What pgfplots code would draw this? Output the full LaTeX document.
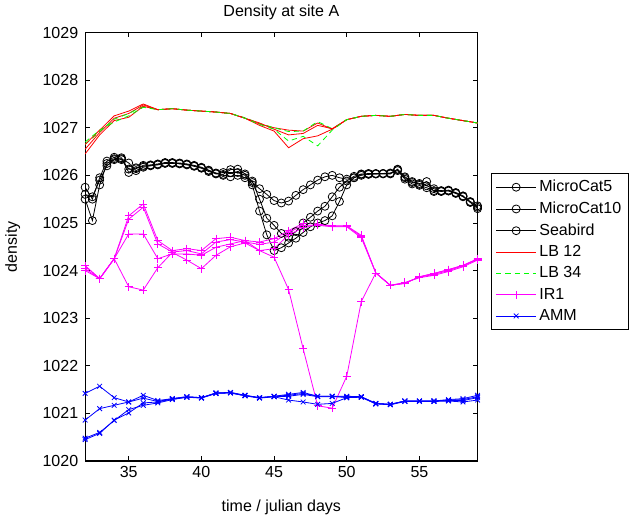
\documentclass[border=0pt]{standalone}
\usepackage{pgfplots}
\pgfplotsset{compat=1.18}
\usepackage{fontspec}
\setmainfont{Liberation Sans}
\definecolor{mmag}{rgb}{1,0,1}
\definecolor{mred}{rgb}{1,0,0}
\pgfplotsset{every axis plot post/.append style={line width=0.6pt},
  legend image code/.code={\draw[mark repeat=2,mark phase=2] plot coordinates {(0cm,0cm) (0.53cm,0cm) (1.06cm,0cm)};}}
\begin{document}
\fontsize{12}{14}\selectfont
\begin{tikzpicture}
\begin{axis}[
  scale only axis, width=294pt, height=321pt,
  xmin=32, xmax=59, ymin=1020, ymax=1029,
  xtick={35,40,45,50,55}, ytick={1020,1021,...,1029},
  /pgf/number format/assume math mode=true,
  /pgf/number format/set thousands separator={},
  tick label style={font=\fontsize{12}{14}\selectfont},
  yticklabel style={xshift=-1pt},
  label style={font=\fontsize{12}{14}\selectfont},
  title style={font=\fontsize{12}{14}\selectfont, yshift=-1pt},
  title={Density at site A},
  xlabel={time / julian days}, ylabel={density},
  xlabel style={yshift=-8pt}, ylabel style={yshift=8.5pt},
  tick align=inside, major tick length=3.5pt,
  axis line style={line width=0.75pt},
  every tick/.style={black, line width=0.6pt},
  legend style={at={(1,0.5)}, xshift=9.75pt, yshift=-3.5pt, anchor=west, font=\fontsize{12}{14}\selectfont,
    draw=black, line width=0.6pt, inner xsep=3.5pt, inner ysep=3pt, row sep=1.8pt, cells={anchor=west}},
]
% MicroCat5
\addplot[black, mark=o, mark size=3pt] coordinates {
(32.0,1025.50)(32.5,1025.05)(33.0,1025.80)(33.5,1026.25)(34.0,1026.35)(34.5,1026.37)
(35.0,1026.06)(35.5,1026.16)(36.0,1026.19)(36.5,1026.21)(37.0,1026.23)(37.5,1026.27)
(38.0,1026.26)(38.5,1026.25)(39.0,1026.23)(39.5,1026.20)(40.0,1026.16)(40.5,1026.10)
(41.0,1026.03)(41.5,1026.02)(42.0,1026.12)(42.5,1026.13)(43.0,1026.03)(43.5,1025.85)
(44.0,1025.72)(44.5,1025.60)(45.0,1025.47)(45.5,1025.42)(46.0,1025.46)(46.5,1025.58)
(47.0,1025.70)(47.5,1025.80)(48.0,1025.90)(48.5,1025.97)(49.0,1026.00)(49.5,1025.95)
(50.0,1025.92)(50.5,1025.95)(51.0,1026.00)(51.5,1026.03)(52.0,1026.03)(52.5,1026.03)
(53.0,1026.03)(53.5,1026.13)(54.0,1025.97)(54.5,1025.87)(55.0,1025.81)(55.5,1025.87)
(56.0,1025.66)(56.5,1025.67)(57.0,1025.69)(57.5,1025.64)(58.0,1025.57)(58.5,1025.43)
(59.0,1025.33)};
\addlegendentry{MicroCat5}
% MicroCat10
\addplot[black, mark=o, mark size=3pt] coordinates {
(32.0,1025.75)(32.5,1025.50)(33.0,1025.95)(33.5,1026.30)(34.0,1026.38)(34.5,1026.33)
(35.0,1026.13)(35.5,1026.14)(36.0,1026.21)(36.5,1026.22)(37.0,1026.24)(37.5,1026.26)
(38.0,1026.27)(38.5,1026.24)(39.0,1026.22)(39.5,1026.19)(40.0,1026.15)(40.5,1026.08)
(41.0,1026.04)(41.5,1026.06)(42.0,1026.06)(42.5,1026.06)(43.0,1026.00)(43.5,1025.80)
(44.0,1025.25)(44.5,1024.75)(45.0,1024.42)(45.5,1024.48)(46.0,1024.58)(46.5,1024.68)
(47.0,1024.80)(47.5,1024.92)(48.0,1025.00)(48.5,1025.05)(49.0,1025.15)(49.5,1025.45)
(50.0,1025.80)(50.5,1025.95)(51.0,1026.02)(51.5,1026.04)(52.0,1026.04)(52.5,1026.04)
(53.0,1026.05)(53.5,1026.12)(54.0,1025.95)(54.5,1025.85)(55.0,1025.83)(55.5,1025.78)
(56.0,1025.72)(56.5,1025.66)(57.0,1025.68)(57.5,1025.63)(58.0,1025.55)(58.5,1025.45)
(59.0,1025.36)};
\addlegendentry{MicroCat10}
% Seabird
\addplot[black, mark=o, mark size=3pt] coordinates {
(32.0,1025.60)(32.5,1025.55)(33.0,1025.90)(33.5,1026.20)(34.0,1026.33)(34.5,1026.35)
(35.0,1026.26)(35.5,1026.10)(36.0,1026.17)(36.5,1026.20)(37.0,1026.22)(37.5,1026.25)
(38.0,1026.25)(38.5,1026.26)(39.0,1026.24)(39.5,1026.21)(40.0,1026.17)(40.5,1026.11)
(41.0,1026.05)(41.5,1026.00)(42.0,1025.97)(42.5,1026.00)(43.0,1025.95)(43.5,1025.88)
(44.0,1025.50)(44.5,1025.10)(45.0,1024.95)(45.5,1024.78)(46.0,1024.70)(46.5,1024.82)
(47.0,1025.00)(47.5,1025.12)(48.0,1025.25)(48.5,1025.35)(49.0,1025.55)(49.5,1025.75)
(50.0,1025.88)(50.5,1025.98)(51.0,1026.03)(51.5,1026.02)(52.0,1026.03)(52.5,1026.04)
(53.0,1026.04)(53.5,1026.10)(54.0,1025.92)(54.5,1025.82)(55.0,1025.79)(55.5,1025.74)
(56.0,1025.68)(56.5,1025.68)(57.0,1025.67)(57.5,1025.62)(58.0,1025.56)(58.5,1025.44)
(59.0,1025.30)};
\addlegendentry{Seabird}
% LB 12
\addplot[mred, line width=0.7pt] coordinates {
(32,1026.55)(33,1026.90)(34,1027.20)(35,1027.30)(36,1027.48)(37,1027.38)(38,1027.40)
(39,1027.37)(40,1027.35)(41,1027.33)(42,1027.30)(43,1027.20)(44,1027.08)(45,1027.00)
(46,1026.95)(47,1026.93)(48,1027.10)(49,1026.97)(50,1027.17)(51,1027.24)(52,1027.26)
(53,1027.24)(54,1027.28)(55,1027.26)(56,1027.26)(57,1027.20)(58,1027.15)(59,1027.10)};
\addlegendentry{LB 12}
% LB 34
\addplot[green, line width=0.75pt, dash pattern=on 4pt off 3pt] coordinates {
(32,1026.65)(33,1026.92)(34,1027.18)(35,1027.30)(36,1027.45)(37,1027.38)(38,1027.40)
(39,1027.37)(40,1027.35)(41,1027.33)(42,1027.30)(43,1027.21)(44,1027.09)(45,1027.00)
(46,1026.92)(47,1026.93)(48,1027.13)(49,1026.98)(50,1027.17)(51,1027.24)(52,1027.26)
(53,1027.24)(54,1027.28)(55,1027.26)(56,1027.26)(57,1027.20)(58,1027.15)(59,1027.10)};
\addlegendentry{LB 34}
% IR1
\addplot[mmag, mark=+, mark size=3pt] coordinates {
(32,1024.10)(33,1023.83)(34,1024.25)(35,1025.15)(36,1025.40)(37,1024.63)(38,1024.42)
(39,1024.46)(40,1024.42)(41,1024.67)(42,1024.70)(43,1024.63)(44,1024.60)(45,1024.67)
(46,1024.84)(47,1024.99)(48,1024.98)(49,1024.94)(50,1024.94)(51,1024.74)(52,1023.95)
(53,1023.69)(54,1023.73)(55,1023.87)(56,1023.94)(57,1024.02)(58,1024.11)(59,1024.25)};
\addlegendentry{IR1}
% AMM
\addplot[blue, mark=x, mark size=2.5pt] coordinates {
(32,1021.42)(33,1021.57)(34,1021.33)(35,1021.24)(36,1021.38)(37,1021.27)(38,1021.31)
(39,1021.35)(40,1021.33)(41,1021.43)(42,1021.44)(43,1021.38)(44,1021.33)(45,1021.36)
(46,1021.40)(47,1021.44)(48,1021.36)(49,1021.36)(50,1021.36)(51,1021.35)(52,1021.21)
(53,1021.19)(54,1021.26)(55,1021.26)(56,1021.26)(57,1021.29)(58,1021.31)(59,1021.38)};
\addlegendentry{AMM}
% extra LB 12 lines
\addplot[mred, line width=0.7pt, forget plot] coordinates {
(32,1026.45)(33,1026.85)(34,1027.15)(35,1027.22)(36,1027.45)(37,1027.38)(38,1027.40)
(39,1027.37)(40,1027.35)(41,1027.33)(42,1027.30)(43,1027.20)(44,1027.05)(45,1026.93)
(46,1026.58)(47,1026.77)(48,1026.83)(49,1026.97)(50,1027.17)(51,1027.24)(52,1027.26)
(53,1027.24)(54,1027.28)(55,1027.26)(56,1027.26)(57,1027.20)(58,1027.15)(59,1027.10)};
\addplot[mred, line width=0.7pt, forget plot] coordinates {
(32,1026.65)(33,1026.95)(34,1027.25)(35,1027.35)(36,1027.50)(37,1027.38)(38,1027.40)
(39,1027.37)(40,1027.35)(41,1027.33)(42,1027.30)(43,1027.20)(44,1027.10)(45,1026.97)
(46,1026.85)(47,1026.88)(48,1027.05)(49,1026.98)(50,1027.17)(51,1027.24)(52,1027.26)
(53,1027.24)(54,1027.28)(55,1027.26)(56,1027.26)(57,1027.20)(58,1027.15)(59,1027.10)};
% extra LB 34 line
\addplot[green, line width=0.75pt, dash pattern=on 4pt off 3pt, forget plot] coordinates {
(32,1026.70)(33,1026.95)(34,1027.12)(35,1027.25)(36,1027.43)(37,1027.38)(38,1027.40)
(39,1027.37)(40,1027.35)(41,1027.33)(42,1027.30)(43,1027.20)(44,1027.07)(45,1026.97)
(46,1026.72)(47,1026.82)(48,1026.62)(49,1026.95)(50,1027.17)(51,1027.24)(52,1027.26)
(53,1027.24)(54,1027.28)(55,1027.26)(56,1027.26)(57,1027.20)(58,1027.15)(59,1027.10)};
% extra IR1 lines
\addplot[mmag, mark=+, mark size=3pt, forget plot] coordinates {
(32,1024.04)(33,1023.83)(34,1024.25)(35,1025.08)(36,1025.33)(37,1024.56)(38,1024.39)
(39,1024.42)(40,1024.35)(41,1024.60)(42,1024.65)(43,1024.60)(44,1024.55)(45,1024.60)
(46,1024.80)(47,1024.95)(48,1024.95)(49,1024.92)(50,1024.92)(51,1024.69)(52,1023.95)
(53,1023.69)(54,1023.75)(55,1023.85)(56,1023.90)(57,1023.98)(58,1024.08)(59,1024.22)};
\addplot[mmag, mark=+, mark size=3pt, forget plot] coordinates {
(32,1024.00)(33,1023.83)(34,1024.25)(35,1024.77)(36,1024.77)(37,1024.25)(38,1024.35)
(39,1024.35)(40,1024.32)(41,1024.49)(42,1024.56)(43,1024.63)(44,1024.42)(45,1024.46)
(46,1024.75)(47,1024.90)(48,1024.97)(49,1024.93)(50,1024.93)(51,1024.72)(52,1023.95)
(53,1023.69)(54,1023.74)(55,1023.86)(56,1023.92)(57,1024.00)(58,1024.10)(59,1024.24)};
\addplot[mmag, mark=+, mark size=3pt, forget plot] coordinates {
(32,1024.10)(33,1023.83)(34,1024.25)(35,1023.66)(36,1023.59)(37,1024.06)(38,1024.38)
(39,1024.22)(40,1024.04)(41,1024.32)(42,1024.50)(43,1024.58)(44,1024.42)(45,1024.28)
(46,1023.60)(47,1022.36)(48,1021.16)(49,1021.11)(50,1021.78)(51,1023.35)(52,1023.95)
(53,1023.69)(54,1023.73)(55,1023.87)(56,1023.94)(57,1024.02)(58,1024.11)(59,1024.23)};
% extra AMM lines
\addplot[blue, mark=x, mark size=2.5pt, forget plot] coordinates {
(32,1020.86)(33,1021.10)(34,1021.17)(35,1021.24)(36,1021.32)(37,1021.25)(38,1021.31)
(39,1021.35)(40,1021.33)(41,1021.43)(42,1021.44)(43,1021.38)(44,1021.33)(45,1021.36)
(46,1021.38)(47,1021.42)(48,1021.36)(49,1021.36)(50,1021.33)(51,1021.35)(52,1021.21)
(53,1021.19)(54,1021.26)(55,1021.26)(56,1021.26)(57,1021.27)(58,1021.27)(59,1021.33)};
\addplot[blue, mark=x, mark size=2.5pt, forget plot] coordinates {
(32,1020.48)(33,1020.60)(34,1020.85)(35,1021.08)(36,1021.17)(37,1021.22)(38,1021.29)
(39,1021.34)(40,1021.33)(41,1021.42)(42,1021.43)(43,1021.37)(44,1021.32)(45,1021.35)
(46,1021.28)(47,1021.24)(48,1021.19)(49,1021.21)(50,1021.33)(51,1021.34)(52,1021.20)
(53,1021.18)(54,1021.25)(55,1021.25)(56,1021.25)(57,1021.26)(58,1021.24)(59,1021.28)};
\addplot[blue, mark=x, mark size=2.5pt, forget plot] coordinates {
(32,1020.45)(33,1020.58)(34,1020.86)(35,1021.01)(36,1021.22)(37,1021.24)(38,1021.30)
(39,1021.34)(40,1021.32)(41,1021.42)(42,1021.43)(43,1021.37)(44,1021.33)(45,1021.35)
(46,1021.36)(47,1021.40)(48,1021.35)(49,1021.35)(50,1021.35)(51,1021.34)(52,1021.20)
(53,1021.19)(54,1021.26)(55,1021.26)(56,1021.26)(57,1021.28)(58,1021.29)(59,1021.35)};
\end{axis}
\end{tikzpicture}
\end{document}
